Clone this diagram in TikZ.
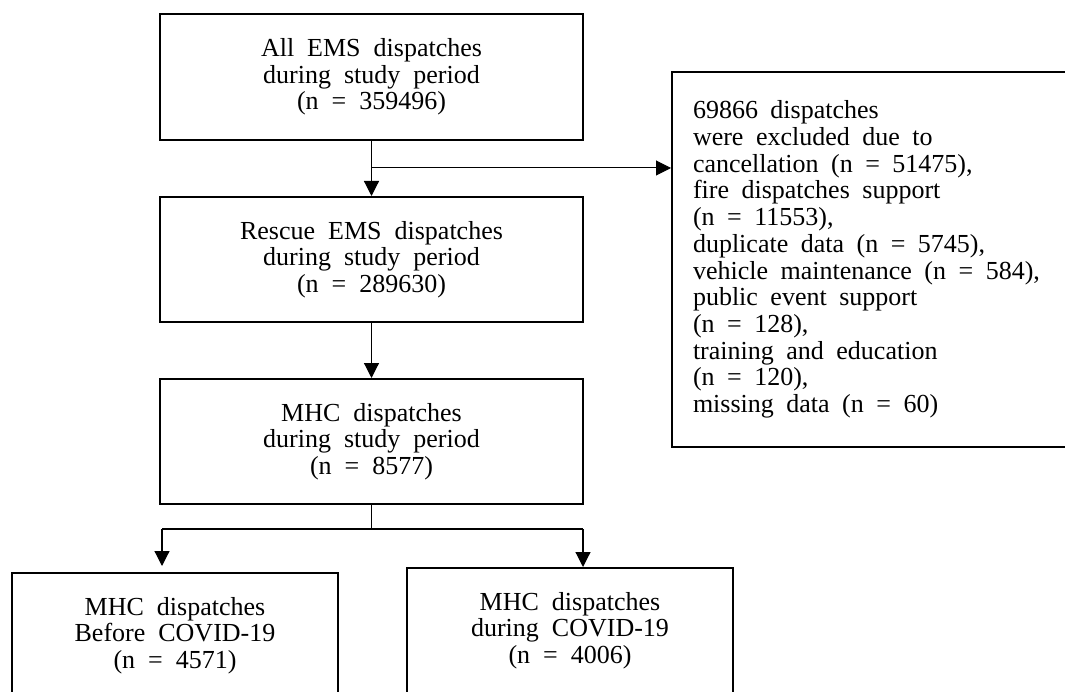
\documentclass[tikz,border=0pt]{standalone}
\usepackage{fontspec}
\setmainfont{Liberation Serif}[WordSpace=2]
\usetikzlibrary{arrows.meta}
\newcommand\myWideSpace{\spaceskip=12.5pt plus 2pt minus 1pt\relax}
\begin{document}
\begin{tikzpicture}[x=1pt,y=-1pt,
  box/.style={draw,line width=2pt,inner sep=0pt,align=center,
    font=\fontsize{26}{26.7}\selectfont},
  conn/.style={line width=1.2pt},
  arr/.style={conn,-{Triangle[width=15pt,length=15pt]}}]
\useasboundingbox (0,0) rectangle (1065,692);
\clip (0,0) rectangle (1065,692);
\fill[white] (0,0) rectangle (1065,692);
\node[box,minimum width=423pt,minimum height=126pt] (all) at (371.5,77)
  {All EMS dispatches\\during study period\\(n = 359496)};
\node[box,minimum width=423pt,minimum height=125pt] (rescue) at (371.5,259.5)
  {Rescue EMS dispatches\\during study period\\(n = 289630)};
\node[box,minimum width=423pt,minimum height=125pt] (mhc) at (371.5,441.5)
  {MHC dispatches\\during study period\\(n = 8577)};
\node[box,minimum width=403pt,minimum height=375pt,text width=361pt,
  inner xsep=21pt,align=left] (excl) at (873.5,259.5)
  {\myWideSpace 69866 dispatches\\were excluded due to\\cancellation (n = 51475),\\fire dispatches support\\(n = 11553),\\duplicate data (n = 5745),\\vehicle maintenance (n = 584),\\public event support\\(n = 128),\\training and education\\(n = 120),\\missing data (n = 60)};
\node[box,minimum width=326pt,minimum height=125pt] (before) at (175,635.5)
  {MHC dispatches\\Before COVID-19\\(n = 4571)};
\node[box,minimum width=326pt,minimum height=125pt] (during) at (570,630.5)
  {MHC dispatches\\during COVID-19\\(n = 4006)};
\draw[arr] (all) -- (rescue);
\draw[arr] (rescue) -- (mhc);
\coordinate (k) at (371.5,168);
\draw[arr,line width=1pt] (k) -- (k -| excl.west);
\coordinate (j) at (371.5,529);
\coordinate (bl) at (162,529);
\coordinate (br) at (583,529);
\draw[conn] (mhc.south) -- (j);
\draw[conn] (bl) -- (br);
\draw[arr,shorten >=6pt] (bl) -- (bl |- before.north);
\draw[arr] (br) -- (br |- during.north);
\end{tikzpicture}
\end{document}
